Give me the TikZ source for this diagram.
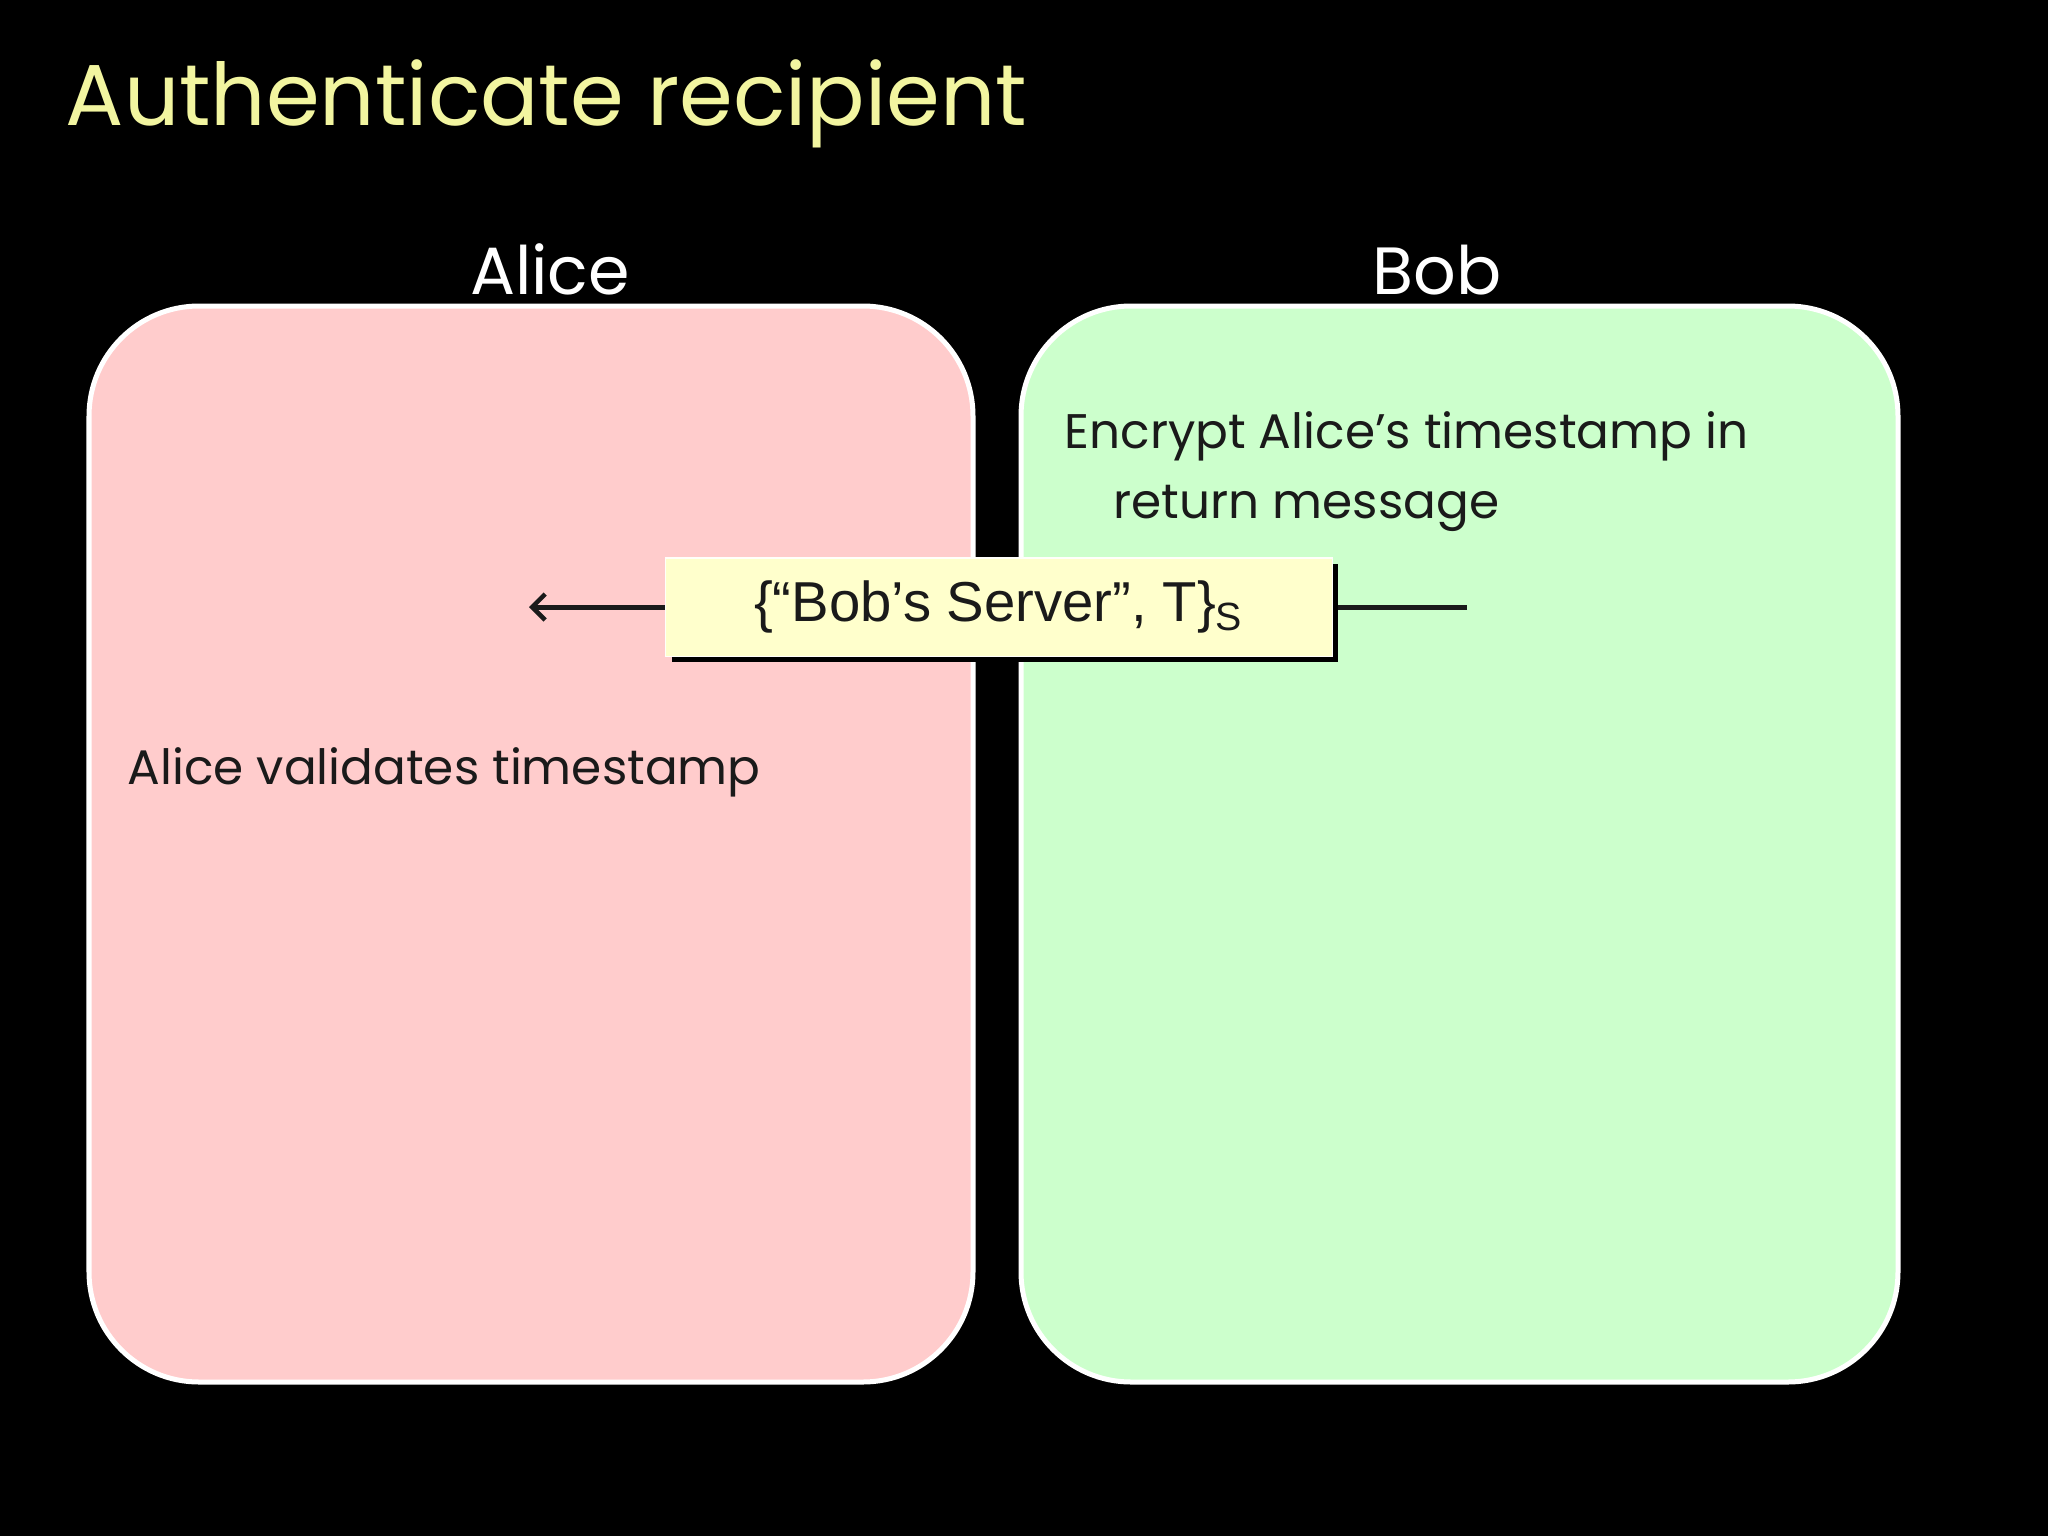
\documentclass[tikz,border=0pt]{standalone}
\usepackage{fontspec}
\setmainfont{Poppins}
\newfontfamily\arialfont{Liberation Sans}
\usetikzlibrary{arrows.meta, shadows}
\definecolor{cpink}{HTML}{FFCCCC}
\definecolor{cmint}{HTML}{CCFFCC}
\definecolor{cnote}{HTML}{FFFFCC}
\definecolor{ctitle}{HTML}{F2F5A0}
\definecolor{cink}{HTML}{1A1A1A}
\tikzset{
  every picture/.style={x=0.01cm, y=-0.01cm},
  party/.style={draw=white, line width=0.5mm, fill=#1, rounded corners=1.1cm},
  title/.style={anchor=base west, text=ctitle, font=\fontsize{24.6}{30}\selectfont, inner sep=0pt},
  partyname/.style={anchor=base, text=white, font=\fontsize{19}{23}\selectfont, inner sep=0pt},
  note/.style={anchor=base west, text=cink, font=\fontsize{13.8}{17}\selectfont, inner sep=0pt},
  msgbox/.style={fill=cnote, draw=white!90!cnote, line width=0.3pt, minimum width=6.66cm, minimum height=0.98cm,
    font=\arialfont\fontsize{16}{20}\selectfont, text=cink,
    drop shadow={fill=black, opacity=1, shadow xshift=0.6mm, shadow yshift=-0.6mm}},
  msgarrow/.style={-{Straight Barb[length=1.3mm, width=2.6mm, line width=0.45mm]}, draw=cink, line width=0.5mm},
}
\begin{document}
\begin{tikzpicture}
  \fill[black] (0,0) rectangle (2048,1536);
  \useasboundingbox (0,0) rectangle (2048,1536);
  \node[title] (head) at (65,125) {Authenticate recipient};
  % the two parties
  \draw[party=cpink] (89,306) rectangle (973,1382);
  \draw[party=cmint] (1021,306) rectangle (1898,1382);
  \node[partyname] (alice) at (550,294) {Alice};
  \node[partyname] (bob) at (1437,294) {Bob};
  \node[note] (encrypt) at (1064,448) {Encrypt Alice’s timestamp in};
  \node[note] (encrypt2) at (1113,518) {return message};
  \node[note] (check) at (127,784) {Alice validates timestamp};
  % message from Bob to Alice
  \coordinate (bobend) at (1467,607);
  \coordinate (aliceend) at (529,607);
  \draw[msgarrow] (bobend) -- (aliceend);
  \node[msgbox] (msg) at (999,607) {\{“Bob’s Server”, T\}\textsubscript{S}};
\end{tikzpicture}
\end{document}
